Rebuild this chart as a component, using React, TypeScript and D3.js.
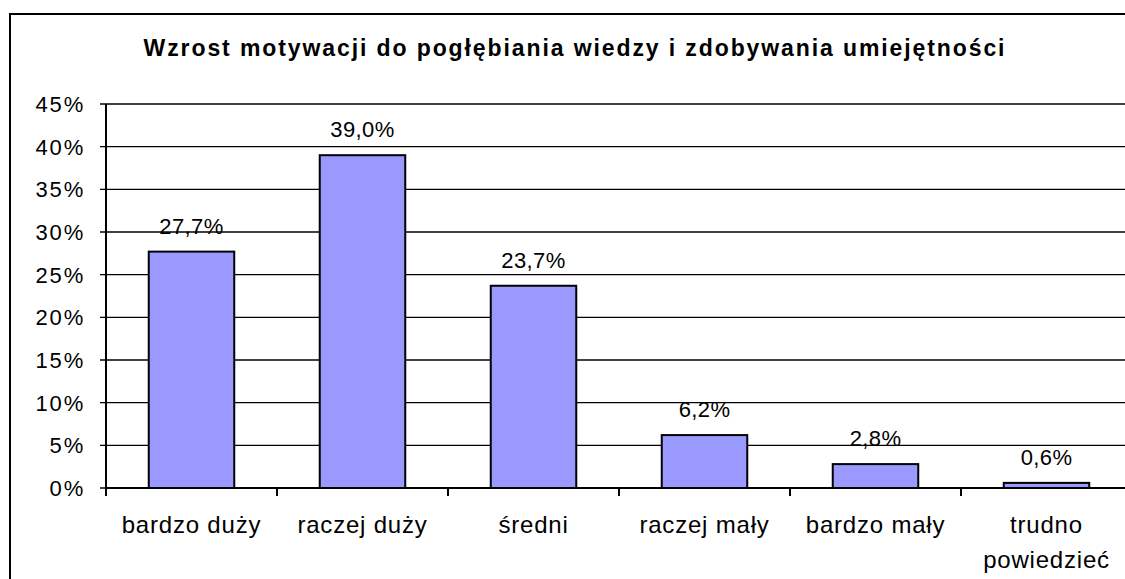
import React, { useEffect } from "react";
import * as d3 from "d3";

const categories: string[][] = [
  ["bardzo duży"],
  ["raczej duży"],
  ["średni"],
  ["raczej mały"],
  ["bardzo mały"],
  ["trudno", "powiedzieć"],
];
const values: number[] = [27.7, 39.0, 23.7, 6.2, 2.8, 0.6];
const yTicks: number[] = [0, 5, 10, 15, 20, 25, 30, 35, 40, 45];
const title = "Wzrost motywacji do pogłębiania wiedzy i zdobywania umiejętności";

const W = 1125;
const H = 579;
const FONT = "Arial, 'Liberation Sans', sans-serif";

export default function App() {
  useEffect(() => {
    document.body.style.margin = "0";
    document.body.style.overflow = "hidden";
    document.documentElement.style.overflow = "hidden";
  }, []);

  const left = 106;
  const right = 1132;
  const top = 104;
  const bottom = 488;

  const x = d3
    .scaleBand<number>()
    .domain(d3.range(categories.length))
    .range([left, right])
    .paddingInner(0.5)
    .paddingOuter(0.25);
  const xb = d3.scaleBand<number>().domain(d3.range(categories.length)).range([left, right]);
  const y = d3.scaleLinear().domain([0, 45]).range([bottom, top]);

  const fmt = (v: number) => v.toFixed(1).replace(".", ",") + "%";

  return (
    <div style={{ width: W, height: H, overflow: "hidden", margin: 0 }}>
      <svg width={W} height={H} style={{ display: "block" }} fontFamily={FONT}>
        <rect x={0} y={0} width={W} height={H} fill="#fff" />
        {/* frame (left and top edges visible) */}
        <path d={`M10,${H + 5}V14H${W + 5}`} fill="none" stroke="#000" strokeWidth={2} />
        {/* title */}
        <text x={575} y={56} textAnchor="middle" fontSize={23} fontWeight="bold" letterSpacing={1.9} fill="#000">
          {title}
        </text>
        {/* gridlines */}
        {yTicks.map((t) => (
          <line key={"g" + t} x1={left - 6} x2={W + 5} y1={y(t)} y2={y(t)} stroke="#000" strokeWidth={1.4} />
        ))}
        {/* y labels */}
        {yTicks.map((t) => (
          <text key={"yl" + t} x={85} y={y(t) + 8} textAnchor="end" fontSize={22} letterSpacing={1.8} fill="#000">
            {t + "%"}
          </text>
        ))}
        {/* bars */}
        {values.map((v, i) => (
          <rect
            key={"b" + i}
            x={x(i)!}
            y={y(v)}
            width={x.bandwidth()}
            height={bottom - y(v)}
            fill="#9999FF"
            stroke="#000"
            strokeWidth={2}
          />
        ))}
        {/* y axis */}
        <line x1={left} x2={left} y1={top} y2={bottom} stroke="#000" strokeWidth={2} />
        {/* x axis */}
        <line x1={left} x2={W + 5} y1={bottom} y2={bottom} stroke="#000" strokeWidth={2} />
        {d3.range(categories.length + 1).map((i) => {
          const px = i < categories.length ? xb(i)! : right;
          return <line key={"xt" + i} x1={px} x2={px} y1={bottom} y2={bottom + 8} stroke="#000" strokeWidth={2} />;
        })}
        {/* data labels */}
        {values.map((v, i) => (
          <text
            key={"dl" + i}
            x={x(i)! + x.bandwidth() / 2}
            y={y(v) - 18}
            textAnchor="middle"
            fontSize={22}
            letterSpacing={0.4}
            fill="#000"
          >
            {fmt(v)}
          </text>
        ))}
        {/* category labels */}
        {categories.map((lines, i) => (
          <text
            key={"cl" + i}
            x={xb(i)! + xb.bandwidth() / 2}
            y={533}
            textAnchor="middle"
            fontSize={24}
            letterSpacing={0.8}
            fill="#000"
          >
            {lines.map((l, j) => (
              <tspan key={j} x={xb(i)! + xb.bandwidth() / 2} dy={j === 0 ? 0 : 35}>
                {l}
              </tspan>
            ))}
          </text>
        ))}
      </svg>
    </div>
  );
}
